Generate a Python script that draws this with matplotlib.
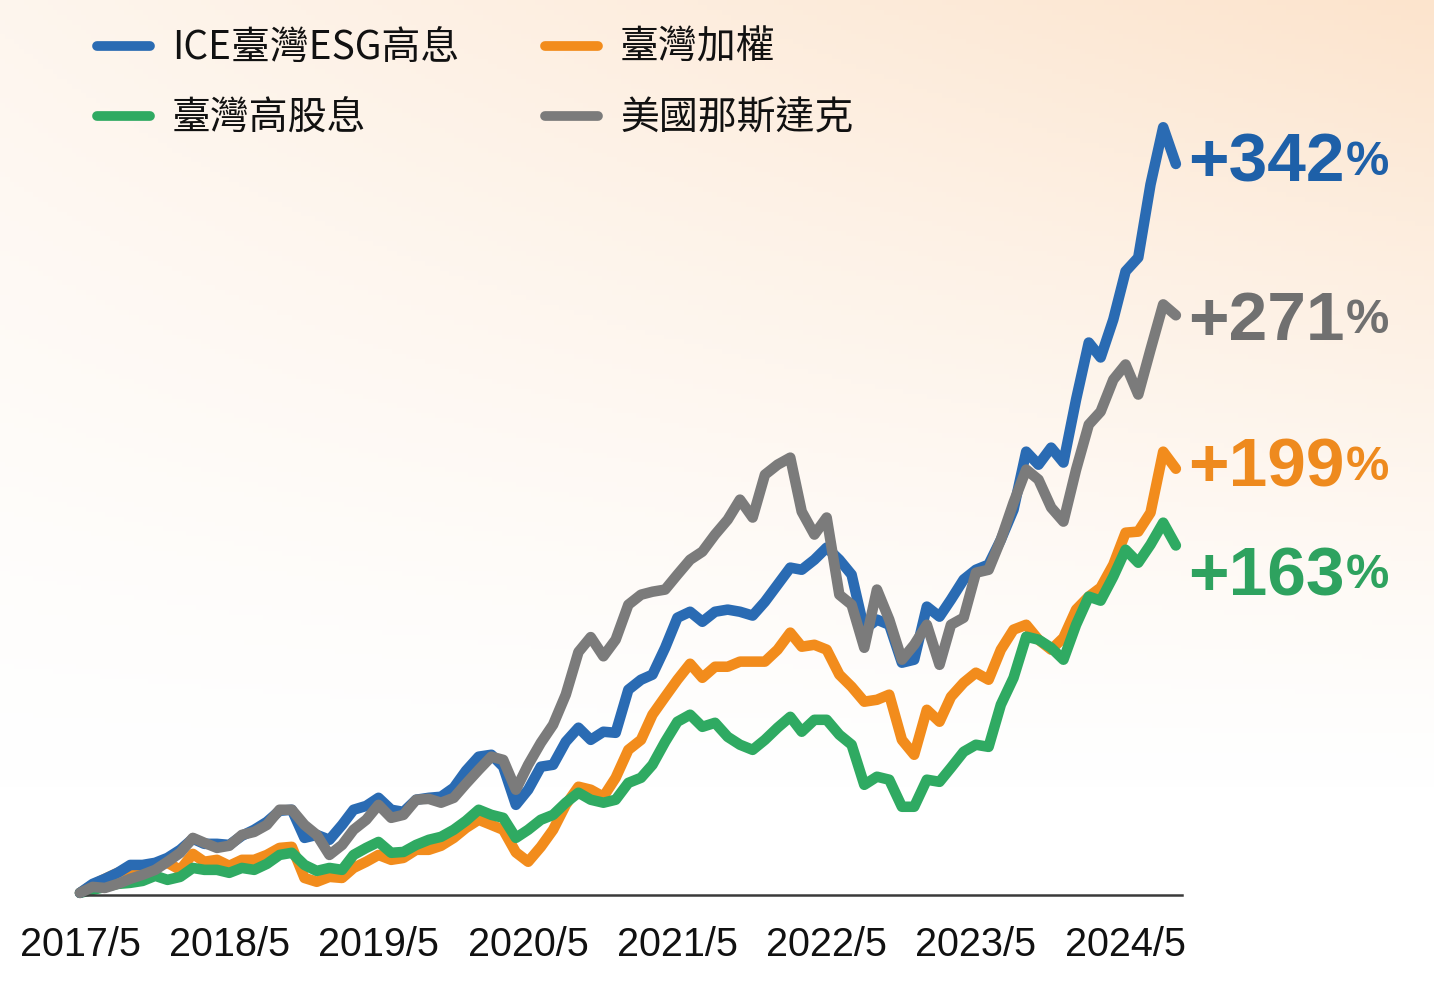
import matplotlib
matplotlib.use("Agg")
import matplotlib.pyplot as plt
import numpy as np
import pandas as pd
from matplotlib.lines import Line2D

plt.rcParams['font.family'] = ['Noto Sans CJK TC', 'DejaVu Sans']

# ---- data (cumulative return, %) ----
dates = pd.date_range('2017-05-01', periods=89, freq='MS')

ice_esg = [0, 4.2, 6.6, 9.4, 13.1, 13.1, 14.1, 16.4, 20.2, 25.4,
           23.0, 23.0, 22.5, 26.8, 29.6, 33.3, 38.5, 39.0, 25.8, 27.2,
           24.9, 31.9, 39.0, 40.8, 44.6, 39.0, 38.0, 43.7, 44.6, 45.1,
           49.3, 57.3, 63.9, 64.8, 59.2, 41.3, 48.4, 59.2, 60.1, 70.9,
           77.5, 71.8, 75.6, 75.1, 95.3, 100.0, 102.4, 115.0, 129.1, 131.9,
           127.2, 131.9, 132.9, 131.9, 130.1, 136.6, 144.6, 152.6, 151.6, 156.3,
           162.0, 156.3, 149.3, 123.5, 128.2, 125.8, 108.0, 109.4, 134.3, 129.6,
           137.6, 147.0, 151.6, 154.0, 165.7, 179.8, 207.0, 200.9, 208.9, 201.9,
           231.5, 258.2, 251.2, 269.0, 291.6, 298.1, 332.4, 359.2, 342.0]

taiex = [0, 3.8, 6.6, 9.4, 11.3, 12.2, 12.7, 14.1, 10.8, 18.3,
         14.6, 15.5, 12.7, 15.5, 15.5, 17.8, 21.1, 21.6, 7.0, 5.2,
         7.5, 7.0, 11.7, 14.6, 17.8, 15.5, 16.4, 20.2, 20.2, 22.1,
         25.8, 30.5, 34.3, 31.9, 29.6, 19.0, 14.6, 21.6, 29.6, 41.3,
         49.8, 48.4, 45.1, 54.0, 67.1, 71.8, 83.6, 92.0, 100.0, 107.5,
         100.9, 106.1, 106.1, 108.5, 108.5, 108.5, 114.1, 122.1, 115.5, 116.4,
         114.1, 102.4, 96.7, 89.7, 90.6, 93.0, 71.8, 64.8, 85.9, 80.3,
         92.0, 98.6, 103.3, 100.0, 114.1, 123.5, 125.8, 118.8, 114.1, 119.7,
         132.9, 139.0, 143.2, 154.0, 169.0, 169.5, 178.4, 207.0, 199.0]

tw_high_div = [0, 1.4, 2.8, 4.2, 4.7, 5.6, 8.0, 6.1, 7.5, 11.7,
               10.8, 10.8, 9.4, 11.7, 10.8, 13.6, 17.8, 18.8, 13.1, 10.3,
               11.7, 10.8, 17.8, 21.1, 23.9, 18.8, 19.2, 22.5, 24.9, 26.3,
               29.6, 33.8, 39.0, 36.6, 35.2, 25.8, 29.6, 34.3, 36.6, 42.3,
               47.0, 43.7, 42.3, 43.7, 51.6, 54.0, 60.1, 70.9, 80.3, 83.6,
               77.9, 79.8, 73.2, 69.5, 67.1, 71.8, 77.5, 82.6, 75.6, 81.2,
               81.2, 74.2, 69.5, 50.7, 54.5, 53.1, 40.4, 40.4, 53.1, 52.1,
               58.7, 66.2, 69.5, 68.5, 88.3, 100.9, 120.2, 118.8, 115.0, 109.4,
               125.8, 139.0, 137.1, 148.4, 161.0, 154.9, 163.4, 173.7, 163.0]

nasdaq = [0, 2.8, 2.3, 4.2, 6.6, 8.5, 10.8, 14.6, 18.8, 25.8,
          23.5, 21.1, 22.1, 27.2, 28.6, 31.9, 39.0, 39.0, 31.9, 27.2,
          17.8, 22.5, 29.6, 34.3, 41.3, 35.2, 36.6, 43.7, 44.1, 42.3,
          44.6, 51.2, 57.7, 63.9, 62.4, 48.4, 60.1, 70.4, 78.9, 93.0,
          113.0, 120.0, 111.0, 118.8, 135.2, 139.9, 141.3, 142.3, 149.3, 156.3,
          160.1, 168.1, 175.1, 184.5, 176.1, 196.2, 200.9, 204.2, 178.9, 168.1,
          176.1, 139.9, 135.2, 115.0, 142.3, 128.2, 109.4, 116.4, 125.8, 107.0,
          125.8, 129.1, 150.2, 151.6, 165.7, 183.1, 198.6, 193.9, 180.8, 174.2,
          198.6, 219.7, 225.8, 240.8, 247.9, 233.8, 254.9, 276.1, 271.0]

names = ['ICE臺灣ESG高息', '臺灣加權', '臺灣高股息', '美國那斯達克']
series = [ice_esg, taiex, tw_high_div, nasdaq]
final_labels = ['+342', '+199', '+163', '+271']
label_y = [342, 199, 148, 268]   # where the end labels sit (green pushed down)

tick_dates = pd.date_range('2017-05-01', periods=8, freq='12MS')
tick_labels = [f'{d.year}/{d.month}' for d in tick_dates]

C_BLUE = '#2A6BB3'
C_ORANGE = '#F28C1C'
C_GREEN = '#2FAA62'
C_GRAY = '#7B7B7B'
colors = [C_BLUE, C_ORANGE, C_GREEN, C_GRAY]
label_colors = ['#1E60A8', '#EE8A1E', '#2EA25F', '#707070']
zorders = [3, 1, 2, 4]

W, H = 1434, 984
fig = plt.figure(figsize=(W / 100, H / 100), dpi=100)

# ---- background: soft peach gradient towards the top right ----
bg = fig.add_axes([0, 0, 1, 1], zorder=-10)
gy, gx = np.mgrid[0:1:200j, 0:1:300j]
f = np.clip(1 - gy / 0.8, 0, 1) ** 1.2 * (0.35 + 0.65 * gx)
white = np.array([1.0, 1.0, 1.0])
peach = np.array([252, 228, 205]) / 255
img = white[None, None, :] * (1 - f[..., None]) + peach[None, None, :] * f[..., None]
bg.imshow(img, aspect='auto', extent=[0, 1, 0, 1], origin='upper')
bg.axis('off')

# ---- main axes ----
ax = fig.add_axes([80 / W, 1 - 895 / H, 1102 / W, (895 - 100) / H])
ax.patch.set_alpha(0)
ax.set_xlim(dates[0], dates[-1] + pd.Timedelta(days=15))
ax.set_ylim(-1, 372)

for s, c, z in zip(series, colors, zorders):
    ax.plot(dates, s, color=c, lw=7.6, solid_capstyle='round',
            solid_joinstyle='round', zorder=z, clip_on=False)

for sp in ['top', 'right', 'left']:
    ax.spines[sp].set_visible(False)
ax.spines['bottom'].set_color('#3a3a3a')
ax.spines['bottom'].set_linewidth(1.8)
ax.set_yticks([])
ax.set_xticks(tick_dates)
ax.set_xticklabels(tick_labels, fontsize=28.5, color='#111111',
                   family=['Liberation Sans Narrow', 'Liberation Sans', 'DejaVu Sans'])
ax.tick_params(axis='x', length=0, pad=22)

# ---- end labels ----
x_lab = dates[-1] + pd.Timedelta(days=30)
for txt, yv, c in zip(final_labels, label_y, label_colors):
    t = ax.text(x_lab, yv, txt, fontsize=50, fontweight='bold', color=c,
                ha='left', va='center', clip_on=False,
                family=['Liberation Sans', 'DejaVu Sans'])
    ax.annotate('%', xy=(1, 0), xycoords=t, xytext=(1, 8), textcoords='offset points',
                fontsize=35, fontweight='bold', color=c, ha='left', va='bottom',
                family=['Liberation Sans', 'DejaVu Sans'])

# ---- legend (two columns) ----
leg_pos = [(97, 46), (545, 46), (97, 116), (545, 116)]
for (px, py), name, c in zip(leg_pos, names, colors):
    fig.add_artist(Line2D([px / W, (px + 53) / W], [1 - py / H, 1 - py / H],
                          color=c, lw=7, solid_capstyle='round'))
    fig.text((px + 75) / W, 1 - (py + 2) / H, name, fontsize=28, color='#111111',
             ha='left', va='center', fontweight='medium')

fig.savefig('out.png', dpi=100)
